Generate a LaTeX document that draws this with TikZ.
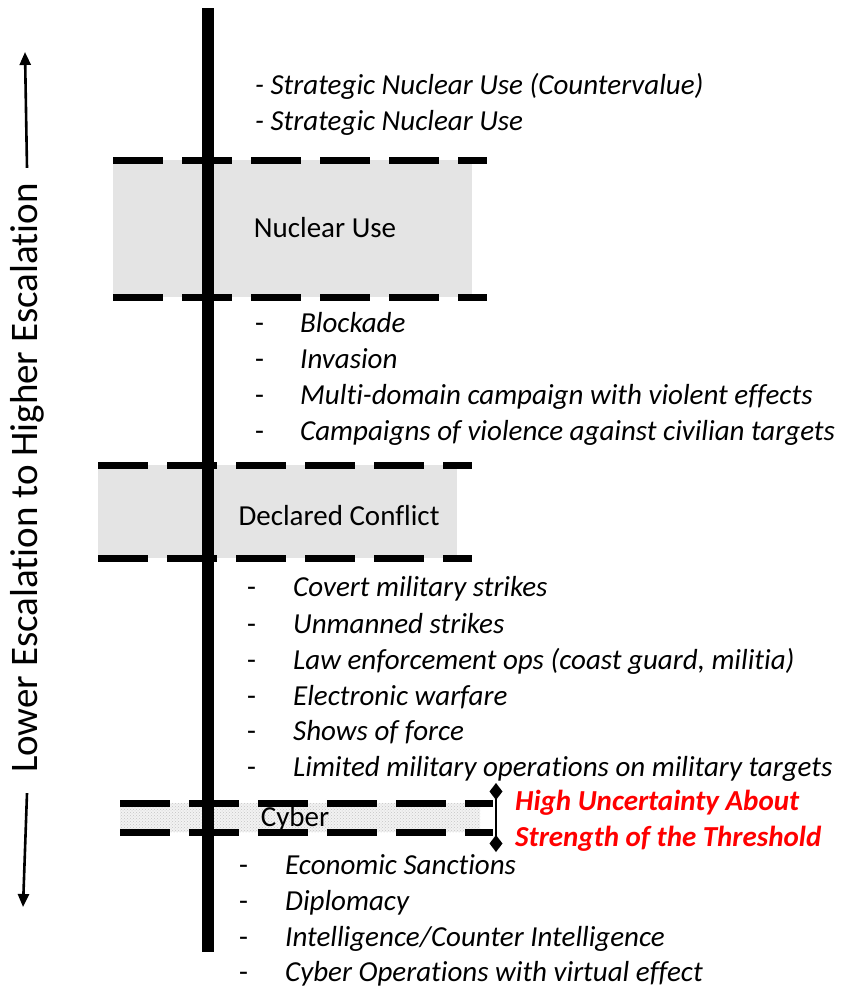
\documentclass[tikz,border=0pt]{standalone}
\usepackage{fontspec}
\setmainfont{Carlito}[Ligatures=NoCommon]
\usetikzlibrary{arrows.meta,patterns}
\definecolor{bandgray}{HTML}{E4E4E4}
\definecolor{alertred}{HTML}{FF0000}

\begin{document}
\begin{tikzpicture}[x=1pt,y=-1pt]
\tikzstyle{every node}+=[inner sep=0pt, font=\fontsize{29}{34}\selectfont]
\tikzstyle{band}=[fill=bandgray, draw=none, anchor=north west]
\tikzstyle{bandline}=[line width=7pt, dash pattern=on 50pt off 19pt]
\tikzstyle{spine}=[line width=12pt]
\tikzstyle{item}=[anchor=base west, font=\fontsize{29}{34}\selectfont\itshape]
\tikzstyle{bullet}=[anchor=base west]
\tikzstyle{axisarrow}=[line width=2.6pt, -{Triangle[length=13pt,width=11pt]}]
\tikzstyle{alert}=[anchor=base west, text=alertred, font=\fontsize{29}{34}\selectfont\bfseries\itshape]
\useasboundingbox (0,0) rectangle (844,988);
\node[band, minimum width=359, minimum height=137] (nuclear) at (113,160) {};
\node (nuclearlbl) at (325,228) {Nuclear Use};
\node[band, minimum width=359, minimum height=93] (declared) at (98,465) {};
\node (declaredlbl) at (339,516) {Declared Conflict};
\node[band, minimum width=360, minimum height=29, fill=none, preaction={fill=gray!10}, pattern=crosshatch dots, pattern color=gray!45] (cyber) at (120,803) {};
\node (cyberlbl) at (295,819) {Cyber};
\coordinate (spinetop) at (208,8);
\coordinate (spinebot) at (208,952);
\draw[spine] (spinetop) -- (spinebot);
\draw[bandline] (nuclear.north west) -- ([xshift=15pt]nuclear.north east);
\draw[bandline] (nuclear.south west) -- ([xshift=15pt]nuclear.south east);
\draw[bandline] (declared.north west) -- ([xshift=15pt]declared.north east);
\draw[bandline] (declared.south west) -- ([xshift=15pt]declared.south east);
\draw[bandline] (cyber.north west) -- ([xshift=13pt]cyber.north east);
\draw[bandline] (cyber.south west) -- ([xshift=13pt]cyber.south east);
\coordinate (brtop) at (496,783);
\coordinate (brbot) at (496,852);
\draw[line width=2.8pt, {Diamond[length=17pt,width=13pt]}-{Diamond[length=17pt,width=13pt]}] (brtop) -- (brbot);
\node[alert] (alert1) at (515,810) {High Uncertainty About};
\node[alert] (alert2) at (515,846) {Strength of the Threshold};
\node[rotate=90, font=\fontsize{39}{44}\selectfont] (axis) at (27,478) {Lower Escalation to Higher Escalation};
\coordinate (uptip) at (25,52);
\coordinate (downtip) at (23,907);
\draw[axisarrow] ([yshift=15pt]axis.east) -- (uptip);
\draw[axisarrow] ([yshift=-20pt]axis.west) -- (downtip);
\node[item] (s1) at (255,94) {- Strategic Nuclear Use (Countervalue)};
\node[item] (s2) at (255,130) {- Strategic Nuclear Use};
\node[bullet] (d1) at (255,332) {-};
\node[item] (b1) at (300,332) {Blockade};
\node[bullet] (d2) at (255,368) {-};
\node[item] (b2) at (300,368) {Invasion};
\node[bullet] (d3) at (255,404) {-};
\node[item] (b3) at (300,404) {Multi-domain campaign with violent effects};
\node[bullet] (d4) at (255,440) {-};
\node[item] (b4) at (300,440) {Campaigns of violence against civilian targets};
\node[bullet] (e1) at (247,596) {-};
\node[item] (c1) at (293,596) {Covert military strikes};
\node[bullet] (e2) at (247,633) {-};
\node[item] (c2) at (293,633) {Unmanned strikes};
\node[bullet] (e3) at (247,669) {-};
\node[item] (c3) at (293,669) {Law enforcement ops (coast guard, militia)};
\node[bullet] (e4) at (247,705) {-};
\node[item] (c4) at (293,705) {Electronic warfare};
\node[bullet] (e5) at (247,740) {-};
\node[item] (c5) at (293,740) {Shows of force};
\node[bullet] (e6) at (247,776) {-};
\node[item] (c6) at (293,776) {Limited military operations on military targets};
\node[bullet] (f1) at (239,874) {-};
\node[item] (g1) at (285,874) {Economic Sanctions};
\node[bullet] (f2) at (239,910) {-};
\node[item] (g2) at (285,910) {Diplomacy};
\node[bullet] (f3) at (239,946) {-};
\node[item] (g3) at (285,946) {Intelligence/Counter Intelligence};
\node[bullet] (f4) at (239,981) {-};
\node[item] (g4) at (285,981) {Cyber Operations with virtual effect};
\end{tikzpicture}
\end{document}
